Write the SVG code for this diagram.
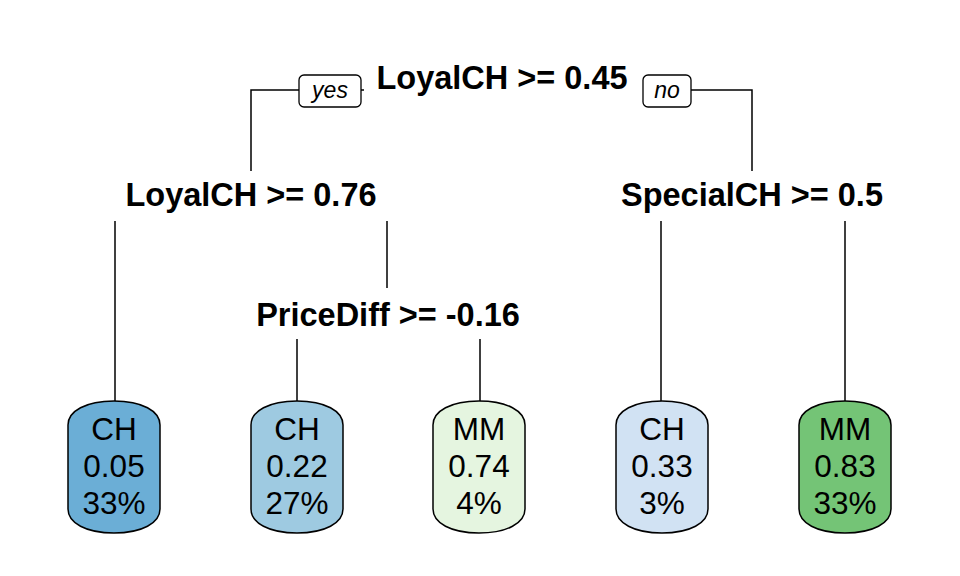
<svg xmlns="http://www.w3.org/2000/svg" width="960" height="576" viewBox="0 0 960 576">
<style>
.split{font-family:"Liberation Sans",Arial,sans-serif;font-weight:bold;font-size:32.5px;text-anchor:middle;fill:#000}
.lab{font-family:"Liberation Sans",Arial,sans-serif;font-style:italic;font-size:23px;text-anchor:middle;fill:#000}
.leaf{font-family:"Liberation Sans",Arial,sans-serif;font-size:31.5px;text-anchor:middle;fill:#000}
.ln{stroke:#000;stroke-width:1.5;fill:none}
.box{stroke:#000;stroke-width:1.5}
.lbox{fill:#fff;stroke:#000;stroke-width:1.3}
</style>
<defs>
<path id="leafshape" d="M-46,24 C-46,10 -28,0 0,0 C28,0 46,10 46,24 L46,108 C46,122 28,132 0,132 C-28,132 -46,122 -46,108 Z"/>
</defs>
<rect width="960" height="576" fill="#fff"/>
<g id="connectors">
<path class="ln" d="M251,171 L251,90 L364,90"/>
<path class="ln" d="M643,90 L752,90 L752,171"/>
<path class="ln" d="M115,221 L115,401"/>
<path class="ln" d="M387,221 L387,288"/>
<path class="ln" d="M297,339 L297,401"/>
<path class="ln" d="M480,339 L480,401"/>
<path class="ln" d="M661,221 L661,401"/>
<path class="ln" d="M845,221 L845,401"/>
</g>
<g id="labels">
<rect class="lbox" x="299" y="75" width="62" height="32" rx="5"/>
<text class="lab" x="330" y="98">yes</text>
<rect class="lbox" x="643" y="75" width="48" height="32" rx="5"/>
<text class="lab" x="667" y="98">no</text>
</g>
<g id="node1"><text class="split" x="502" y="89">LoyalCH &gt;= 0.45</text></g>
<g id="node2"><text class="split" x="251" y="206">LoyalCH &gt;= 0.76</text></g>
<g id="node3"><text class="split" x="752" y="206">SpecialCH &gt;= 0.5</text></g>
<g id="node5"><text class="split" x="388" y="326">PriceDiff &gt;= -0.16</text></g>
<g id="leaf4">
<use href="#leafshape" x="114" y="401" class="box" fill="#6baed6"/>
<text class="leaf" x="114" y="440">CH</text><text class="leaf" x="114" y="477">0.05</text><text class="leaf" x="114" y="514">33%</text>
</g>
<g id="leaf10">
<use href="#leafshape" x="297" y="401" class="box" fill="#9ecae1"/>
<text class="leaf" x="297" y="440">CH</text><text class="leaf" x="297" y="477">0.22</text><text class="leaf" x="297" y="514">27%</text>
</g>
<g id="leaf11">
<use href="#leafshape" x="479" y="401" class="box" fill="#e5f5e0"/>
<text class="leaf" x="479" y="440">MM</text><text class="leaf" x="479" y="477">0.74</text><text class="leaf" x="479" y="514">4%</text>
</g>
<g id="leaf6">
<use href="#leafshape" x="662" y="401" class="box" fill="#d1e2f3"/>
<text class="leaf" x="662" y="440">CH</text><text class="leaf" x="662" y="477">0.33</text><text class="leaf" x="662" y="514">3%</text>
</g>
<g id="leaf7">
<use href="#leafshape" x="845" y="401" class="box" fill="#74c476"/>
<text class="leaf" x="845" y="440">MM</text><text class="leaf" x="845" y="477">0.83</text><text class="leaf" x="845" y="514">33%</text>
</g>
</svg>
